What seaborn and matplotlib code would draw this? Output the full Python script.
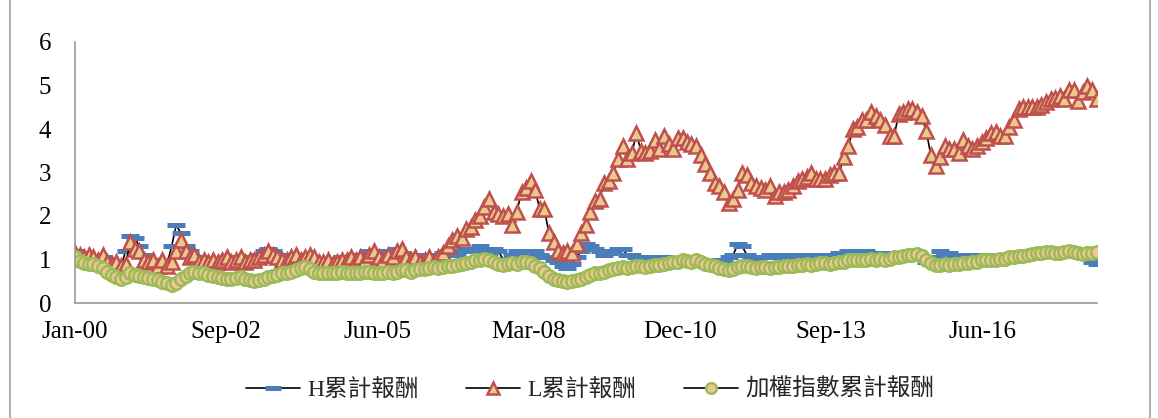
import numpy as np
import pandas as pd
import matplotlib
matplotlib.use("Agg")
import matplotlib.pyplot as plt
import matplotlib.dates as mdates
import seaborn as sns

# ---- data (monthly, Jan-2000 .. Jul-2018) ----
start_month = "2000-01-01"
n_months = 223

h_values = [
    1.20, 1.15, 1.10, 1.05, 1.00, 1.00, 1.05, 0.95, 0.90, 0.90,
    0.85, 1.20, 1.55, 1.50, 1.30, 1.10, 1.00, 0.95, 0.85, 0.80,
    0.90, 1.30, 1.80, 1.60, 1.30, 1.20, 1.05, 0.95, 0.85, 0.90,
    0.95, 0.85, 0.90, 0.95, 0.95, 1.00, 1.05, 1.00, 1.05, 1.00,
    1.10, 1.20, 1.25, 1.20, 1.10, 1.05, 1.05, 1.10, 1.10, 1.05,
    1.00, 1.05, 1.00, 0.95, 0.95, 1.00, 0.95, 1.00, 1.05, 1.00,
    1.05, 1.10, 1.05, 1.10, 1.20, 1.15, 1.20, 1.10, 1.15, 1.20,
    1.25, 1.15, 1.10, 1.05, 1.10, 1.05, 1.00, 1.05, 1.10, 1.10,
    1.15, 1.20, 1.15, 1.10, 1.20, 1.25, 1.20, 1.25, 1.30, 1.20,
    1.15, 1.25, 1.20, 1.00, 0.95, 1.10, 1.20, 1.15, 1.20, 1.15,
    1.20, 1.10, 1.05, 1.05, 1.00, 0.95, 0.85, 0.80, 0.90, 1.05,
    1.20, 1.35, 1.30, 1.25, 1.20, 1.10, 1.15, 1.20, 1.25, 1.25,
    1.10, 1.10, 1.05, 1.00, 1.05, 1.05, 1.00, 1.00, 1.05, 1.00,
    1.00, 0.95, 1.00, 0.98, 0.95, 0.95, 1.00, 1.00, 0.95, 0.95,
    1.00, 0.95, 1.05, 1.10, 1.35, 1.30, 1.10, 1.05, 1.00, 1.05,
    1.05, 1.10, 1.05, 1.10, 1.10, 1.05, 1.10, 1.10, 1.05, 1.10,
    1.10, 1.10, 1.05, 1.05, 1.10, 1.10, 1.15, 1.15, 1.20, 1.20,
    1.15, 1.20, 1.20, 1.15, 1.15, 1.10, 1.15, 1.10, 1.15, 1.15,
    1.15, 1.10, 1.10, 1.05, 1.05, 0.95, 0.90, 1.05, 1.20, 1.15,
    1.15, 1.05, 1.05, 1.10, 1.10, 1.05, 1.10, 1.10, 1.05, 1.10,
    1.10, 1.05, 1.10, 1.10, 1.05, 1.10, 1.10, 1.10, 1.15, 1.10,
    1.10, 1.15, 1.10, 1.15, 1.15, 1.10, 1.15, 1.15, 1.10, 1.10,
    1.05, 0.95, 0.90,
]

l_values = [
    1.15, 1.10, 1.05, 1.10, 1.05, 1.00, 1.10, 0.95, 0.90, 0.95,
    0.85, 0.90, 1.40, 1.25, 1.20, 1.00, 0.95, 1.00, 0.85, 1.00,
    0.85, 0.95, 1.20, 1.45, 1.20, 1.05, 1.10, 0.95, 1.00, 0.95,
    1.00, 0.95, 1.00, 1.05, 0.95, 1.00, 1.05, 0.95, 1.00, 1.00,
    1.05, 1.10, 1.20, 1.10, 1.05, 1.00, 1.00, 1.05, 1.10, 1.00,
    1.05, 1.10, 1.05, 0.95, 0.95, 1.00, 0.90, 0.95, 1.00, 1.00,
    1.05, 1.00, 1.05, 1.00, 1.10, 1.20, 1.05, 1.00, 1.10, 1.05,
    1.20, 1.25, 1.05, 1.00, 1.05, 0.95, 1.00, 1.05, 0.95, 1.05,
    1.15, 1.30, 1.45, 1.55, 1.50, 1.70, 1.75, 1.90, 2.00, 2.20,
    2.40, 2.10, 2.05, 2.00, 2.05, 1.80, 2.10, 2.55, 2.65, 2.80,
    2.60, 2.15, 2.15, 1.60, 1.40, 1.20, 1.15, 1.20, 1.15, 1.35,
    1.60, 1.80, 2.10, 2.35, 2.40, 2.75, 2.80, 3.00, 3.30, 3.60,
    3.30, 3.45, 3.90, 3.50, 3.45, 3.50, 3.75, 3.55, 3.85, 3.65,
    3.55, 3.80, 3.80, 3.70, 3.65, 3.60, 3.40, 3.20, 3.00, 2.75,
    2.70, 2.55, 2.30, 2.40, 2.60, 3.00, 2.95, 2.75, 2.70, 2.65,
    2.60, 2.70, 2.45, 2.55, 2.55, 2.60, 2.70, 2.80, 2.85, 2.90,
    3.00, 2.85, 2.85, 2.85, 2.95, 2.98, 2.98, 3.35, 3.60, 4.00,
    4.05, 4.20, 4.20, 4.40, 4.30, 4.20, 4.10, 3.85, 3.85, 4.35,
    4.40, 4.45, 4.45, 4.40, 4.30, 3.95, 3.40, 3.15, 3.35, 3.60,
    3.55, 3.55, 3.45, 3.75, 3.60, 3.55, 3.60, 3.70, 3.80, 3.90,
    3.92, 3.85, 3.85, 4.05, 4.20, 4.45, 4.50, 4.50, 4.50, 4.50,
    4.55, 4.62, 4.68, 4.72, 4.75, 4.70, 4.90, 4.90, 4.65, 4.85,
    5.00, 4.90, 4.70,
]

idx_values = [
    1.05, 0.97, 0.93, 0.90, 0.90, 0.85, 0.80, 0.72, 0.65, 0.60,
    0.55, 0.60, 0.68, 0.65, 0.62, 0.60, 0.58, 0.55, 0.52, 0.48,
    0.45, 0.42, 0.45, 0.55, 0.62, 0.70, 0.72, 0.70, 0.68, 0.65,
    0.62, 0.60, 0.58, 0.55, 0.55, 0.58, 0.60, 0.55, 0.52, 0.50,
    0.52, 0.55, 0.60, 0.62, 0.65, 0.68, 0.70, 0.72, 0.75, 0.80,
    0.82, 0.78, 0.72, 0.70, 0.68, 0.70, 0.68, 0.70, 0.72, 0.70,
    0.68, 0.70, 0.70, 0.72, 0.72, 0.70, 0.68, 0.70, 0.72, 0.70,
    0.72, 0.75, 0.75, 0.72, 0.75, 0.78, 0.78, 0.80, 0.82, 0.80,
    0.82, 0.85, 0.85, 0.88, 0.90, 0.92, 0.95, 0.98, 1.00, 1.02,
    1.00, 0.95, 0.90, 0.88, 0.90, 0.92, 0.90, 0.95, 0.95, 0.92,
    0.85, 0.80, 0.72, 0.62, 0.55, 0.52, 0.50, 0.48, 0.50, 0.52,
    0.55, 0.60, 0.65, 0.68, 0.70, 0.72, 0.75, 0.78, 0.80, 0.82,
    0.80, 0.82, 0.85, 0.85, 0.82, 0.85, 0.88, 0.88, 0.90, 0.92,
    0.95, 0.95, 0.98, 0.97, 0.95, 0.98, 0.95, 0.90, 0.88, 0.85,
    0.80, 0.78, 0.75, 0.78, 0.82, 0.85, 0.85, 0.82, 0.80, 0.82,
    0.82, 0.80, 0.82, 0.82, 0.85, 0.85, 0.85, 0.88, 0.88, 0.90,
    0.88, 0.90, 0.92, 0.92, 0.90, 0.92, 0.95, 0.95, 0.98, 0.98,
    1.00, 0.98, 1.00, 1.02, 1.00, 1.02, 1.00, 1.02, 1.05, 1.05,
    1.08, 1.10, 1.10, 1.12, 1.08, 1.00, 0.92, 0.88, 0.88, 0.90,
    0.88, 0.90, 0.90, 0.92, 0.92, 0.95, 0.95, 0.98, 0.98, 1.00,
    1.00, 1.02, 1.02, 1.05, 1.05, 1.08, 1.08, 1.10, 1.12, 1.15,
    1.15, 1.18, 1.18, 1.15, 1.15, 1.18, 1.20, 1.18, 1.15, 1.12,
    1.15, 1.15, 1.18,
]

series_labels = ["H累計報酬", "L累計報酬", "加權指數累計報酬"]
y_ticks = [0, 1, 2, 3, 4, 5, 6]

# ---- build frame ----
dates = pd.date_range(start_month, periods=n_months, freq="MS")
df = pd.DataFrame({"date": dates, "H": h_values, "L": l_values, "IDX": idx_values})

sns.set_theme(style="white")
plt.rcParams["font.family"] = ["Liberation Serif", "Noto Sans CJK TC", "DejaVu Sans"]

fig = plt.figure(figsize=(11.58, 4.18), dpi=100)
ax = fig.add_axes([75 / 1158, 1 - 303 / 418, (1097 - 75) / 1158, (303 - 42) / 418])

line_kw = dict(color="black", lw=1.2, ax=ax, legend=False)
sns.lineplot(data=df, x="date", y="H", marker="_", markersize=13,
             markeredgewidth=3.6, markeredgecolor="#4A7EBB", label=series_labels[0], **line_kw)
sns.lineplot(data=df, x="date", y="L", marker="^", markersize=10,
             markeredgewidth=1.8, markeredgecolor="#C0504D", markerfacecolor="#E9C98E",
             label=series_labels[1], **line_kw)
sns.lineplot(data=df, x="date", y="IDX", marker="o", markersize=9,
             markeredgewidth=1.8, markeredgecolor="#9BBB59", markerfacecolor="#EEC790",
             label=series_labels[2], **line_kw)

ax.set_ylim(0, 6)
ax.set_yticks(y_ticks)
x0 = mdates.date2num(pd.Timestamp(start_month))
x1 = mdates.date2num(dates[-1])
ax.set_xlim(x0, x1 + 3)
ax.set_xticks([x0 + 1000 * k for k in range(7)])
ax.xaxis.set_major_formatter(mdates.DateFormatter("%b-%y"))
ax.set_xlabel("")
ax.set_ylabel("")
for s in ["top", "right"]:
    ax.spines[s].set_visible(False)
for s in ["left", "bottom"]:
    ax.spines[s].set_color("#9a9a9a")
    ax.spines[s].set_linewidth(1.2)
ax.tick_params(axis="both", length=0, labelsize=18, colors="black")
ax.tick_params(axis="x", pad=13)
ax.tick_params(axis="y", pad=17)

handles = ax.get_lines()
leg = fig.legend(handles[:3], series_labels, loc="center", ncol=3,
                 bbox_to_anchor=(590 / 1158, 1 - 390 / 418), frameon=False,
                 fontsize=17, handlelength=2.3, columnspacing=2.0, handletextpad=0.3,
                 markerscale=0.85)

# outer frame lines
fig.add_artist(plt.Line2D([10 / 1158, 10 / 1158], [0, 1], color="#b0b0b0", lw=1.5))
fig.add_artist(plt.Line2D([1150 / 1158, 1150 / 1158], [0, 1], color="#b0b0b0", lw=1.5))

fig.savefig("out.png", dpi=100)
